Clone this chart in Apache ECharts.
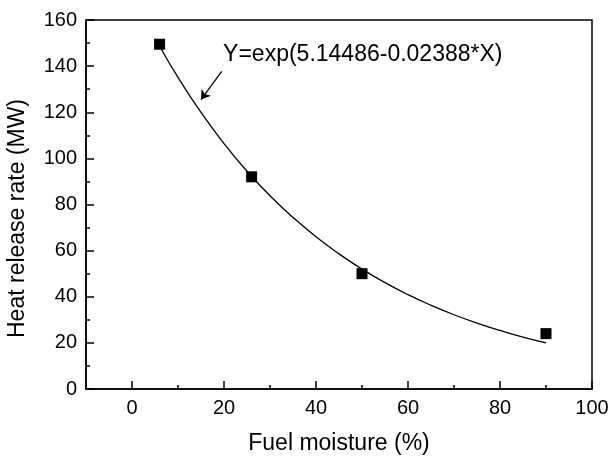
<!DOCTYPE html>
<html>
<head>
<meta charset="utf-8">
<script src="https://cdn.jsdelivr.net/npm/echarts@6/dist/echarts.min.js"></script>
<style>
  html, body { margin: 0; padding: 0; background: #fff; }
  #chart { width: 610px; height: 456px; }
</style>
</head>
<body>
<div id="chart"></div>
<script>
// Measured heat release rate at each fuel moisture level
const moisture = [6, 26, 50, 90];
const heatRelease = [149.5, 92, 50, 24];

// Exponential fit curve, sampled along the fitted range
const fitX = [6, 10, 15, 20, 25, 30, 35, 40, 45, 50, 55, 60, 65, 70, 75, 80, 85, 90];
const fitY = [148.6, 135.1, 119.9, 106.4, 94.4, 83.8, 74.4, 66.0, 58.6, 52.0, 46.1, 40.9, 36.3, 32.2, 28.6, 25.4, 22.5, 20.0];

// Tick positions
const xMajorTicks = [0, 20, 40, 60, 80, 100];
const xMinorTicks = [-10, 10, 30, 50, 70, 90];

const fitLabel = 'Y=exp(5.14486-0.02388*X)';
// Arrow pointing from the equation to the curve (data coordinates)
const arrowFrom = [19.5, 137.7];
const arrowTo = [15.0, 125.5];
const labelAnchor = [19.8, 145];

const FONT = '"Liberation Sans", Arial, sans-serif';

const chart = echarts.init(document.getElementById('chart'), null, { renderer: 'canvas' });

const option = {
  backgroundColor: '#fff',
  animation: false,
  grid: {
    left: 86, right: 18, top: 20, bottom: 67,
    outerBoundsMode: 'none', containLabel: false,
    show: true, borderColor: '#000', borderWidth: 1.5, backgroundColor: 'transparent'
  },
  xAxis: [
    {
      type: 'value', min: -10, max: 100,
      name: 'Fuel moisture (%)', nameLocation: 'middle', nameGap: 43,
      nameTextStyle: { fontFamily: FONT, fontSize: 23, color: '#000' },
      axisLine: { show: true, onZero: false, lineStyle: { color: '#000', width: 1.5 } },
      axisTick: { show: true, inside: true, length: 8, customValues: xMajorTicks, lineStyle: { color: '#000', width: 1.5 } },
      axisLabel: { show: true, customValues: xMajorTicks, margin: 9, fontFamily: FONT, fontSize: 20, color: '#000' },
      splitLine: { show: false }
    },
    {
      type: 'value', min: -10, max: 100, position: 'bottom',
      axisLine: { show: false, onZero: false },
      axisTick: { show: true, inside: true, length: 4, customValues: xMinorTicks, lineStyle: { color: '#000', width: 1.5 } },
      axisLabel: { show: false },
      splitLine: { show: false }
    }
  ],
  yAxis: {
    type: 'value', min: 0, max: 160, interval: 20,
    name: 'Heat release rate (MW)', nameLocation: 'middle', nameGap: 57,
    nameTextStyle: { fontFamily: FONT, fontSize: 23, color: '#000', padding: [0, 28, 0, 0] },
    axisLine: { show: true, onZero: false, lineStyle: { color: '#000', width: 1.5 } },
    axisTick: { show: true, inside: true, length: 8, lineStyle: { color: '#000', width: 1.5 } },
    minorTick: { show: true, splitNumber: 2, length: 4, lineStyle: { color: '#000', width: 1.5 } },
    axisLabel: { margin: 9, fontFamily: FONT, fontSize: 20, color: '#000' },
    splitLine: { show: false }
  },
  series: [
    {
      name: 'fit', type: 'line', xAxisIndex: 0,
      data: fitX.map((x, i) => [x, fitY[i]]),
      smooth: true, showSymbol: false, symbol: 'none',
      lineStyle: { color: '#000', width: 1.3 },
      z: 2,
      markLine: {
        silent: true, symbol: ['none', 'arrow'], symbolSize: 9,
        lineStyle: { color: '#000', width: 1.3, type: 'solid' },
        label: { show: false },
        data: [[{ coord: arrowFrom }, { coord: arrowTo }]]
      },
      markPoint: {
        silent: true, symbol: 'circle', symbolSize: 0,
        data: [{ coord: labelAnchor }],
        label: {
          show: true, position: 'right', distance: 0,
          formatter: fitLabel, fontFamily: FONT, fontSize: 23, color: '#000'
        }
      }
    },
    {
      name: 'measured', type: 'scatter', xAxisIndex: 0,
      data: moisture.map((x, i) => [x, heatRelease[i]]),
      symbol: 'rect', symbolSize: 11,
      itemStyle: { color: '#000', opacity: 1 },
      z: 3
    }
  ]
};

chart.setOption(option);
</script>
</body>
</html>
